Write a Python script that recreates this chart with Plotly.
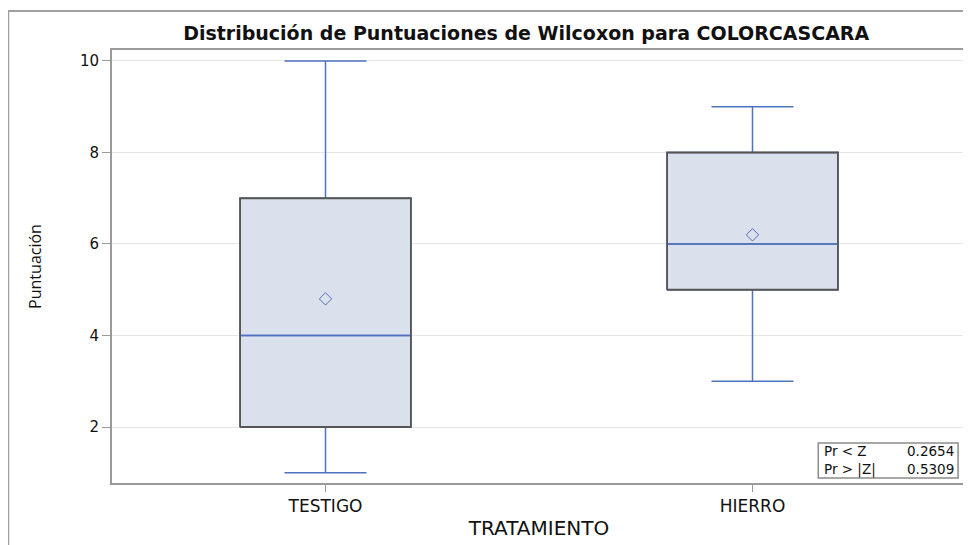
import plotly.graph_objects as go

categories = ["TESTIGO", "HIERRO"]
mins = [1, 3]
q1s = [2, 5]
medians = [4, 6]
q3s = [7, 8]
maxs = [10, 9]
means = [4.8, 6.2]
stat_labels = ["Pr < Z", "Pr > |Z|"]
stat_values = ["0.2654", "0.5309"]
y_ticks = [2, 4, 6, 8, 10]

BLUE = "#5070C0"
FILL = "#DAE0EC"
GRAY = "#555555"
BW = 0.4
WIDE = "DejaVu Sans, Verdana, sans-serif"

fig = go.Figure()
xs = list(range(len(categories)))
for i in xs:
    fig.add_trace(go.Box(
        x=[i], q1=[q1s[i]], median=[medians[i]], q3=[q3s[i]],
        lowerfence=[mins[i]], upperfence=[maxs[i]],
        width=BW, whiskerwidth=0.48,
        fillcolor=FILL, line=dict(color=BLUE, width=1.5),
        boxpoints=False, hoverinfo="skip", showlegend=False,
    ))
    # box outline in gray
    fig.add_trace(go.Scatter(
        x=[i - BW / 2, i + BW / 2, i + BW / 2, i - BW / 2, i - BW / 2],
        y=[q1s[i], q1s[i], q3s[i], q3s[i], q1s[i]],
        mode="lines", line=dict(color=GRAY, width=1.8),
        hoverinfo="skip", showlegend=False,
    ))
    # redraw median on top
    fig.add_trace(go.Scatter(
        x=[i - BW / 2 + 0.003, i + BW / 2 - 0.003],
        y=[medians[i], medians[i]],
        mode="lines", line=dict(color=BLUE, width=1.5),
        hoverinfo="skip", showlegend=False,
    ))

fig.add_trace(go.Scatter(
    x=xs, y=means, mode="markers",
    marker=dict(symbol="diamond-open", size=9.5, color=BLUE, line=dict(width=1)),
    hoverinfo="skip", showlegend=False,
))

fig.update_layout(
    width=963, height=537,
    margin=dict(l=104, r=3, t=42, b=62),
    paper_bgcolor="white", plot_bgcolor="white",
    font=dict(family=WIDE, color="#111"),
    title=dict(
        text="<b>Distribución de Puntuaciones de Wilcoxon para COLORCASCARA</b>",
        xref="paper", x=0.485, xanchor="center", y=0.953, yanchor="middle",
        font=dict(size=19, color="#111", family=WIDE),
    ),
    xaxis=dict(
        range=[-0.5, 1.5], tickmode="array", tickvals=xs, ticktext=categories,
        showgrid=False, zeroline=False,
        showline=True, linecolor="#9A9A9A", linewidth=2, mirror=True,
        ticks="outside", ticklen=7, tickcolor="#9A9A9A",
        tickfont=dict(size=17, color="#111", family=WIDE),
        title=dict(text="TRATAMIENTO", font=dict(size=20, color="#111", family=WIDE), standoff=6),
    ),
    yaxis=dict(
        range=[0.776, 10.24], tickmode="array", tickvals=y_ticks,
        showgrid=True, gridcolor="#E6E6E6", gridwidth=1, zeroline=False,
        showline=True, linecolor="#9A9A9A", linewidth=2, mirror=True,
        ticks="outside", ticklen=8, tickcolor="#9A9A9A",
        tickfont=dict(size=15, color="#111", family=WIDE),
        title=dict(text="Puntuación", font=dict(size=16, color="#111", family="Open Sans, Liberation Sans"), standoff=34),
    ),
)

# outer frame
fig.add_shape(type="rect", xref="paper", yref="paper",
              x0=-0.1215, x1=1.01, y0=-0.2, y1=1.090,
              line=dict(color="#A0A0A0", width=2), layer="below")

# statistics inset
fig.add_shape(type="rect", xref="paper", yref="paper",
              x0=0.827, x1=0.9907, y0=0.0115, y1=0.0924,
              line=dict(color="#8C8C8C", width=1.5), fillcolor="white")
fig.add_annotation(xref="paper", yref="paper", x=0.831, y=0.052,
                   xanchor="left", yanchor="middle", align="left", showarrow=False,
                   text="<br>".join(stat_labels), font=dict(size=13.5, color="#111", family=WIDE))
fig.add_annotation(xref="paper", yref="paper", x=0.988, y=0.052,
                   xanchor="right", yanchor="middle", align="right", showarrow=False,
                   text="<br>".join(stat_values), font=dict(size=13.5, color="#111", family=WIDE))

fig.write_html("out.html")
